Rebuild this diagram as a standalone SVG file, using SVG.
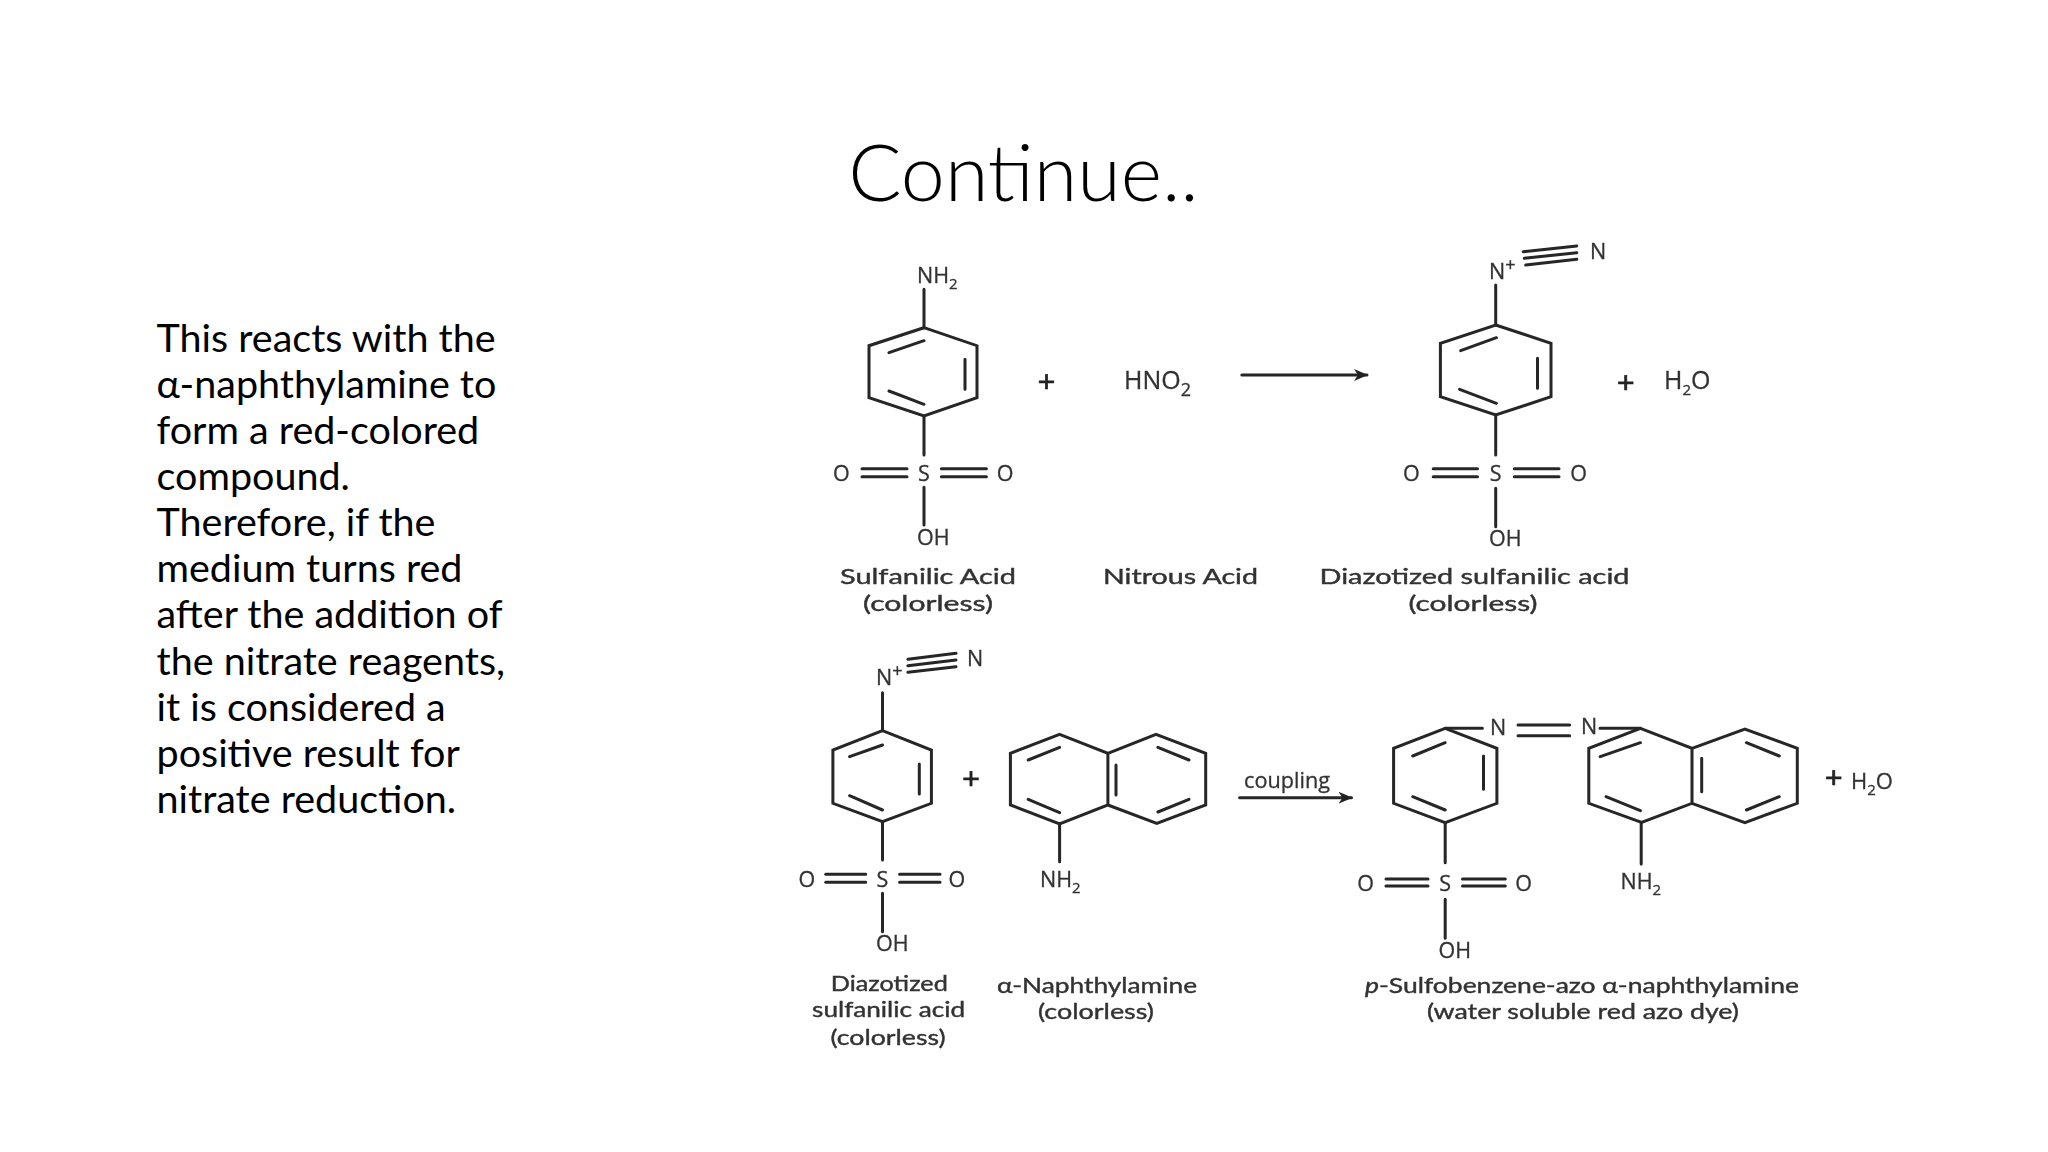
<svg xmlns="http://www.w3.org/2000/svg" width="2048" height="1152" viewBox="0 0 2048 1152">
<style>
.b{fill:none;stroke:#262626;stroke-width:3;stroke-linecap:round;stroke-linejoin:miter}
.t{font-family:"Open Sans","DejaVu Sans",sans-serif;fill:#333;stroke:#333;stroke-width:.3;font-size:21.5px}
.h{font-size:25px}
.l{font-family:Lato,"Open Sans",sans-serif;fill:#333;stroke:#333;stroke-width:.4;font-size:21px;text-anchor:middle}
.s{font-size:15px}
.v{font-size:18px}
.u{font-size:18px}
.p{font-family:"Liberation Sans",sans-serif;fill:#222;stroke:#222;stroke-width:.7;font-size:30px;text-anchor:middle}
.c{font-family:Lato,"Open Sans",sans-serif;fill:#000}
</style>
<defs>
<marker id="ah" viewBox="0 0 14 12" refX="13" refY="6" markerWidth="14" markerHeight="12" markerUnits="userSpaceOnUse" orient="auto"><path d="M0 0L14 6L0 12L4 6Z" fill="#222"/></marker>
<filter id="soft" x="0" y="0" width="1" height="1"><feGaussianBlur stdDeviation="0.5"/></filter>
</defs>
<rect width="2048" height="1152" fill="#fff"/>
<text id="title" class="c" x="1023.5" y="201" font-size="79" font-weight="300" text-anchor="middle">Continue..</text>
<g id="body" class="c" font-size="39.5">
<text x="156.5" y="351.5">This reacts with the</text>
<text x="156.5" y="397.5">α-naphthylamine to</text>
<text x="156.5" y="443.5">form a red-colored</text>
<text x="156.5" y="489.5">compound.</text>
<text x="156.5" y="535.5">Therefore, if the</text>
<text x="156.5" y="582">medium turns red</text>
<text x="156.5" y="628">after the addition of</text>
<text x="156.5" y="674.5">the nitrate reagents,</text>
<text x="156.5" y="720.5">it is considered a</text>
<text x="156.5" y="766.5">positive result for</text>
<text x="156.5" y="812.5">nitrate reduction.</text>
</g>
<g filter="url(#soft)">
<g id="sulfanilic-acid">
<path class="b" d="M924 327.7L977 345.7V397.7L924 416L869 397.7V345.7Z"/>
<path class="b" d="M889 352.7L924 340.7M965 359.3V389.3M889 391L924 404.3M924 289.3V327.7M924 416V455M862 468.7H907M862 476.7H907M941.4 468.7H986.4M941.4 476.7H986.4M924 487.3V525"/>
<text class="t" x="917" y="283">NH<tspan class="s" dy="6">2</tspan></text>
<text class="t" x="924" y="481" text-anchor="middle">S</text>
<text class="t" x="841.4" y="481" text-anchor="middle">O</text>
<text class="t" x="1005" y="481" text-anchor="middle">O</text>
<text class="t" x="917" y="545">OH</text>
<text class="l" x="928" y="584" textLength="176" lengthAdjust="spacingAndGlyphs">Sulfanilic Acid</text>
<text class="l" x="928" y="610.5" textLength="130" lengthAdjust="spacingAndGlyphs">(colorless)</text>
</g>
<g id="nitrous-acid">
<text class="t h" x="1124" y="389">HNO<tspan class="v" dy="7">2</tspan></text>
<text class="l" x="1180.5" y="584" textLength="155" lengthAdjust="spacingAndGlyphs">Nitrous Acid</text>
</g>
<g id="plus-1"><text class="p" x="1046.4" y="392">+</text></g>
<g id="diazotized-1">
<path class="b" d="M1495.7 325L1551 343.3V396.7L1495.7 415L1440.4 396.7V343.3Z"/>
<path class="b" d="M1460.7 350.7L1496.4 337.7M1537.5 358.3V388.3M1459.6 389.3L1496.4 403.3M1495.7 285V325M1495.7 415V455M1433.2 468.7H1477.5M1433.2 476.7H1477.5M1514.3 468.7H1559M1514.3 476.7H1559M1495.7 488.3V526.7M1523.2 251.7L1576.8 246M1524.3 258.3L1576.8 252.7M1525.7 265L1576.8 259.3"/>
<text class="t" x="1489" y="279">N<tspan class="u" dy="-8">+</tspan></text>
<text class="t" x="1590" y="258.5">N</text>
<text class="t" x="1495.7" y="481" text-anchor="middle">S</text>
<text class="t" x="1411.4" y="481" text-anchor="middle">O</text>
<text class="t" x="1578.6" y="481" text-anchor="middle">O</text>
<text class="t" x="1489" y="546">OH</text>
<text class="l" x="1474.5" y="584" textLength="310" lengthAdjust="spacingAndGlyphs">Diazotized sulfanilic acid</text>
<text class="l" x="1473" y="610.5" textLength="129" lengthAdjust="spacingAndGlyphs">(colorless)</text>
</g>
<g id="plus-2"><text class="p" x="1625.7" y="392.7">+</text></g>
<g id="water-1"><text class="t h" x="1664" y="389">H<tspan class="s" dy="6">2</tspan><tspan dy="-6">O</tspan></text></g>
<g id="diazotized-2">
<path class="b" d="M882.5 730.7L931.4 750V803.3L882.5 821.7L832.9 803.3V750Z"/>
<path class="b" d="M849.6 756.7L882.5 745M919.3 764V794M849.6 795.7L882.5 810M882.5 692.7V730.7M882.5 821.7V860M825.7 874.3H865.7M825.7 882.3H865.7M899.6 874.3H940M899.6 882.3H940M882.5 893.3V931.7M907.9 659.3L956 653.3M907.9 665.7L956 660M907.9 672.3L956 666.7"/>
<text class="t" x="876" y="685">N<tspan class="u" dy="-8">+</tspan></text>
<text class="t" x="967" y="666">N</text>
<text class="t" x="882.5" y="887" text-anchor="middle">S</text>
<text class="t" x="806.8" y="887" text-anchor="middle">O</text>
<text class="t" x="956.8" y="887" text-anchor="middle">O</text>
<text class="t" x="876" y="950.5">OH</text>
<text class="l" x="889.3" y="990.7" textLength="117" lengthAdjust="spacingAndGlyphs">Diazotized</text>
<text class="l" x="888.6" y="1016.7" textLength="153" lengthAdjust="spacingAndGlyphs">sulfanilic acid</text>
<text class="l" x="888" y="1045" textLength="115" lengthAdjust="spacingAndGlyphs">(colorless)</text>
</g>
<g id="plus-3"><text class="p" x="971" y="789">+</text></g>
<g id="naphthylamine">
<path class="b" d="M1059.6 734.3L1107.9 753.3V805L1059.6 824L1010.4 805V753.3ZM1107.9 753.3L1156 734.3L1205.7 753.3V805L1156.8 823.3L1107.9 805"/>
<path class="b" d="M1028.2 760L1059.6 747.3M1028.2 799.3L1059.6 812.7M1116 765V795M1157.9 747.3L1189 760M1157.9 812L1189 799.3M1059.6 824V861.7"/>
<text class="t" x="1040" y="886.5">NH<tspan class="s" dy="6">2</tspan></text>
<text class="l" x="1097" y="992.7" textLength="200" lengthAdjust="spacingAndGlyphs">α-Naphthylamine</text>
<text class="l" x="1096" y="1019" textLength="116" lengthAdjust="spacingAndGlyphs">(colorless)</text>
</g>
<g id="product">
<path class="b" d="M1445.2 728.3L1496.9 748.3V803.3L1445.2 822.7L1393.6 803.3V748.3ZM1640.4 728.3L1692 748.3V803.3L1641.6 822.3L1588.8 803.3V748.3ZM1692 748.3L1744.9 729L1797.3 748.3V803.3L1744.9 822.7L1692 803.3"/>
<path class="b" d="M1412.7 756L1445.2 742.7M1483.5 756V789.3M1412.7 796.7L1445.2 810M1445.2 728.3H1482.4M1518 725H1569.6M1518 735.7H1569.6M1600 728.3H1640.4M1600.2 756.7L1640.4 742.7M1606 796.7L1640.4 810.7M1701.7 758.3V791.7M1746.4 742.7L1779.3 756M1746.4 810L1779.3 796.7M1641.2 822.7V864M1445.2 822.7V862.7M1386 879H1428M1386 886H1428M1462.5 879H1505.3M1462.5 886H1505.3M1445.2 899.3V938.3"/>
<text class="t" x="1490" y="734.5">N</text>
<text class="t" x="1581" y="733.5">N</text>
<text class="t" x="1620.5" y="889">NH<tspan class="s" dy="6">2</tspan></text>
<text class="t" x="1445.2" y="891" text-anchor="middle">S</text>
<text class="t" x="1365.6" y="891" text-anchor="middle">O</text>
<text class="t" x="1523.7" y="891" text-anchor="middle">O</text>
<text class="t" x="1438.5" y="958">OH</text>
<text class="l" x="1582" y="992.7" textLength="434" lengthAdjust="spacingAndGlyphs"><tspan font-style="italic">p</tspan>-Sulfobenzene-azo α-naphthylamine</text>
<text class="l" x="1583" y="1019" textLength="312" lengthAdjust="spacingAndGlyphs">(water soluble red azo dye)</text>
</g>
<g id="plus-4"><text class="p" x="1833.7" y="788">+</text></g>
<g id="water-2"><text class="t" x="1851" y="789" style="font-size:22px">H<tspan class="s" dy="6">2</tspan><tspan dy="-6">O</tspan></text></g>
<g id="connectors">
<path class="b" d="M1241.8 375H1367" marker-end="url(#ah)"/>
<path class="b" d="M1239.6 797.7H1351.5" marker-end="url(#ah)"/>
<text class="t" x="1244" y="788" textLength="86" lengthAdjust="spacingAndGlyphs">coupling</text>
</g>
</g>
</svg>
